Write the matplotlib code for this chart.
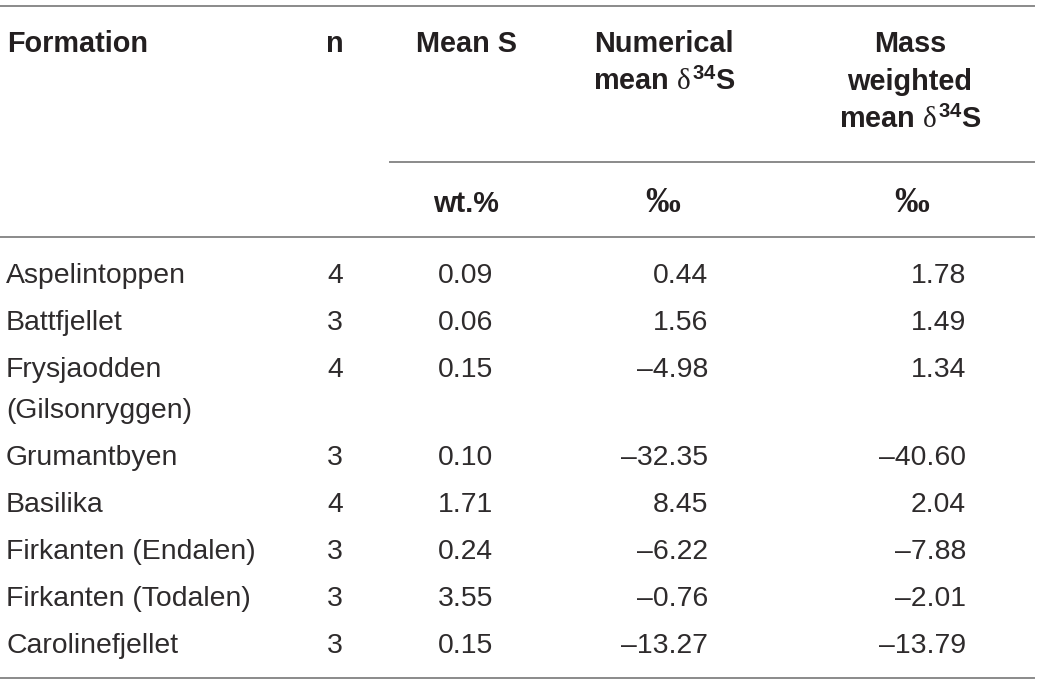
import matplotlib
matplotlib.use("Agg")
import matplotlib.pyplot as plt

# table content
formations = ["Aspelintoppen", "Battfjellet", "Frysjaodden\n(Gilsonryggen)", "Grumantbyen",
              "Basilika", "Firkanten (Endalen)", "Firkanten (Todalen)", "Carolinefjellet"]
n_samples = [4, 3, 4, 3, 4, 3, 3, 3]
mean_s = [0.09, 0.06, 0.15, 0.10, 1.71, 0.24, 3.55, 0.15]
num_mean_d34s = [0.44, 1.56, -4.98, -32.35, 8.45, -6.22, -0.76, -13.27]
mass_mean_d34s = [1.78, 1.49, 1.34, -40.60, 2.04, -7.88, -2.01, -13.79]

headers = ["Formation", "n", "Mean S", "Numerical\nmean $\\delta^{34}$S", "Mass\nweighted\nmean $\\delta^{34}$S"]
units = ["", "", "wt.%", "‰", "‰"]

plt.rcParams["mathtext.fontset"] = "custom"
plt.rcParams["mathtext.rm"] = "Liberation Sans:bold"
plt.rcParams["mathtext.it"] = "Liberation Serif"
plt.rcParams["mathtext.bf"] = "Liberation Sans:bold"

TXT = "#231f20"
BODY = "#2e2b2c"
RULE = "#8a8a8a"
FS = 20.4

fig = plt.figure(figsize=(10.4, 6.85), dpi=100)
ax = fig.add_axes([0, 0, 1, 1])
ax.set_xlim(0, 1040)
ax.set_ylim(685, 0)
ax.axis("off")


def fmt(v):
    s = f"{abs(v):.2f}"
    return "–" + s if v < 0 else s


# rules
ax.plot([0, 1034], [5.5, 5.5], color=RULE, lw=1.4)
ax.plot([390, 1034], [161.5, 161.5], color=RULE, lw=1.4)
ax.plot([0, 1034], [237, 237], color=RULE, lw=1.4)
ax.plot([0, 1034], [678, 678], color=RULE, lw=1.4)

# header
head_x = [7, 335, 467, 664, 910]
head_ha = ["left", "center", "center", "center", "center"]
for x, ha, h in zip(head_x, head_ha, headers):
    for i, line in enumerate(h.split("\n")):
        ax.text(x, 52 + 38 * i, line, ha=ha, va="baseline", fontsize=20.8,
                fontweight="bold", family="Liberation Sans", color=TXT)

unit_x = [0, 0, 466, 663, 912]
for x, u in zip(unit_x, units):
    if not u:
        continue
    if u == "wt.%":
        ax.text(x, 212, u, ha="center", va="baseline", fontsize=20.8,
                fontweight="bold", family="Liberation Sans", color=TXT)
    else:
        ax.text(x, 212, u, ha="center", va="baseline", fontsize=25,
                fontweight="bold", family="Liberation Serif", color=TXT)

# body rows
y = 283
for name, n, ms, nm, mm in zip(formations, n_samples, mean_s, num_mean_d34s, mass_mean_d34s):
    lines = name.split("\n")
    for i, line in enumerate(lines):
        ax.text(6, y + 41 * i, line, ha="left", va="baseline", fontsize=FS,
                family="Liberation Sans", color=BODY)
    ax.text(335, y, str(n), ha="center", va="baseline", fontsize=FS,
            family="Liberation Sans", color=BODY)
    ax.text(493, y, f"{ms:.2f}", ha="right", va="baseline", fontsize=FS,
            family="Liberation Sans", color=BODY)
    ax.text(708, y, fmt(nm), ha="right", va="baseline", fontsize=FS,
            family="Liberation Sans", color=BODY)
    ax.text(966, y, fmt(mm), ha="right", va="baseline", fontsize=FS,
            family="Liberation Sans", color=BODY)
    y += 47 + 41 * (len(lines) - 1)

fig.savefig("out.png", dpi=100)
